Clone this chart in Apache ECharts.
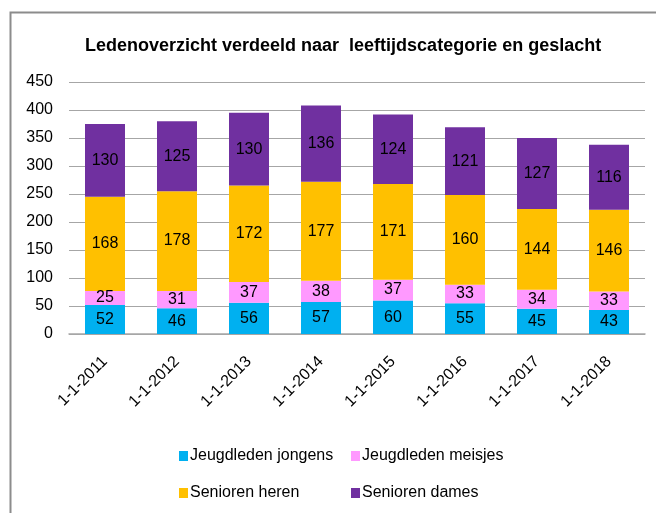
<!DOCTYPE html>
<html><head><meta charset="utf-8">
<script src="https://cdn.jsdelivr.net/npm/echarts@6/dist/echarts.min.js"></script>
<style>html,body{margin:0;padding:0;background:#fff}#c{width:656px;height:513px}</style>
</head><body><div id="c"></div>
<script>
const categories = ['1-1-2011','1-1-2012','1-1-2013','1-1-2014','1-1-2015','1-1-2016','1-1-2017','1-1-2018'];
const jeugdJongens = [52,46,56,57,60,55,45,43];
const jeugdMeisjes = [25,31,37,38,37,33,34,33];
const seniorenHeren = [168,178,172,177,171,160,144,146];
const seniorenDames = [130,125,130,136,124,121,127,116];
const seriesNames = ['Jeugdleden jongens','Jeugdleden meisjes','Senioren heren','Senioren dames'];
const colors = ['#00B0F0','#FF99FF','#FFC000','#7030A0'];
const yTicks = {min:0,max:450,interval:50};

const FONT = 'Liberation Sans';
const chart = echarts.init(document.getElementById('c'));
const data = [jeugdJongens, jeugdMeisjes, seniorenHeren, seniorenDames];
chart.setOption({
  animation:false,
  textStyle:{fontFamily:FONT},
  title:{text:'Ledenoverzicht verdeeld naar  leeftijdscategorie en geslacht',left:80,top:32,
    textStyle:{fontFamily:FONT,fontSize:18,fontWeight:'bold',color:'#000'}},
  graphic:[{type:'rect',shape:{x:10.5,y:12.5,width:700,height:600},style:{fill:'none',stroke:'#8c8c8c',lineWidth:2},silent:true,z:-1}],
  legend:[
    {orient:'vertical',left:174,top:443,itemGap:21,itemWidth:9,itemHeight:10,icon:'rect',
     data:[seriesNames[0],seriesNames[2]],textStyle:{fontFamily:FONT,fontSize:16,color:'#000',padding:[0,0,0,-3]}},
    {orient:'vertical',left:346,top:443,itemGap:21,itemWidth:9,itemHeight:10,icon:'rect',
     data:[seriesNames[1],seriesNames[3]],textStyle:{fontFamily:FONT,fontSize:16,color:'#000',padding:[0,0,0,-3]}}
  ],
  grid:{left:69,right:11,top:82,bottom:179,containLabel:false},
  xAxis:{type:'category',data:categories,
    axisLine:{lineStyle:{color:'#a6a6a6',width:1.5}},axisTick:{show:false},
    axisLabel:{rotate:45,fontFamily:FONT,fontSize:16,color:'#000',margin:25,interval:0}},
  yAxis:{type:'value',min:yTicks.min,max:yTicks.max,interval:yTicks.interval,
    axisLine:{show:false},axisTick:{show:false},
    splitLine:{lineStyle:{color:'#a6a6a6',width:1.2}},
    axisLabel:{fontFamily:FONT,fontSize:16,color:'#000',margin:16}},
  series:data.map((d,i)=>({
    name:seriesNames[i],type:'bar',stack:'total',data:d,barWidth:40,
    itemStyle:{color:colors[i]},
    label:{show:true,position:'inside',fontFamily:FONT,fontSize:16,color:'#000'}
  }))
});
</script></body></html>
